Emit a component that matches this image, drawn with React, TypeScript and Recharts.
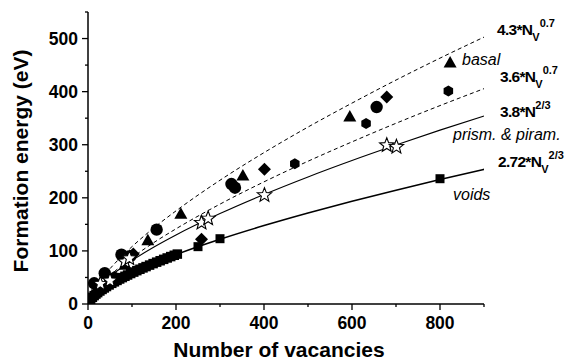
// Formation energy of vacancy clusters vs number of vacancies, with power-law fits.
import { ComposedChart, Line, Scatter, XAxis, YAxis, Customized } from "recharts";

const FONT = "'Liberation Sans', Arial, Helvetica, sans-serif";

// fit curves, values
const fitN = [0, 5, 10, 20, 40, 60, 100, 150, 200, 300, 400, 500, 600, 700, 800, 900];
const basalFit = [0, 13.3, 21.5, 35.0, 56.9, 75.6, 108.0, 143.6, 175.4, 233.1, 285.1, 333.3, 378.4, 421.8, 463.1, 502.7];
const midFit = [0, 10.7, 17.4, 28.2, 45.9, 61.0, 87.2, 115.9, 141.6, 188.1, 230.1, 268.9, 305.4, 340.4, 373.7, 405.6];
const prismFit = [0, 11.1, 17.6, 28.0, 44.5, 58.3, 81.9, 107.3, 130.0, 170.3, 206.3, 239.4, 270.3, 299.4, 327.5, 354.2];
const voidFit = [0, 7.9, 12.6, 20.0, 31.8, 41.7, 58.6, 76.8, 93.0, 121.9, 147.7, 171.4, 193.5, 214.3, 234.4, 253.6];

// markers
const squareN = [1, 6, 10, 14, 18, 22, 27, 32, 37, 42, 48, 54, 60, 66, 72, 78, 84, 90, 97, 104, 111, 118, 125, 132, 140, 148, 156, 164, 172, 180, 188, 196, 203, 250, 300, 800];
const squareE = [2, 9.0, 12.6, 15.8, 18.7, 21.4, 24.5, 27.4, 30.2, 32.9, 35.9, 38.9, 41.7, 44.4, 47.1, 49.7, 52.2, 54.6, 57.4, 60.1, 62.8, 65.4, 68.0, 70.5, 73.3, 76.1, 78.8, 81.5, 84.1, 86.7, 89.3, 91.8, 94.0, 108, 123, 236];
const circleN = [14, 38, 76, 96, 156, 326, 334, 656];
const circleE = [39, 58, 93, 90, 140, 226, 219, 371];
const triN = [85, 136, 211, 352, 595, 823];
const triE = [74, 120, 170, 242, 353, 455];
const diamondN = [103, 258, 401, 679];
const diamondE = [94, 122, 254, 390];
const hexN = [60, 470, 632, 819];
const hexE = [52, 264, 340, 401];
const starN = [28, 50, 84, 94, 258, 273, 401, 679, 701];
const starE = [38, 44, 80, 86, 153, 161, 205, 299, 296];

const xTicks = [0, 100, 200, 300, 400, 500, 600, 700, 800, 900];
const yTicks = [0, 50, 100, 150, 200, 250, 300, 350, 400, 450, 500, 550];

const pts = (ns: number[], es: number[]) => ns.map((n, i) => ({ n, e: es[i] }));

function XTick(props: any) {
  const { x, y, payload } = props;
  const major = payload.value % 200 === 0;
  return (
    <g>
      <line x1={x} x2={x} y1={y} y2={y + (major ? 6 : 3)} stroke="#000" strokeWidth={1.3} />
      {major && (
        <text x={x} y={y + 25} textAnchor="middle" fontSize={17.5} fontWeight="bold" fontFamily={FONT} fill="#000">
          {payload.value}
        </text>
      )}
    </g>
  );
}

function YTick(props: any) {
  const { x, y, payload } = props;
  const major = payload.value % 100 === 0;
  return (
    <g>
      <line x1={x} x2={x - (major ? 6 : 3)} y1={y} y2={y} stroke="#000" strokeWidth={1.3} />
      {major && (
        <text x={x - 10} y={y + 6.3} textAnchor="end" fontSize={17.5} fontWeight="bold" fontFamily={FONT} fill="#000">
          {payload.value}
        </text>
      )}
    </g>
  );
}

const Square = (p: any) => {
  const s = p.payload && p.payload.n > 240 ? 9 : 9.5;
  return <rect x={p.cx - s / 2} y={p.cy - s / 2} width={s} height={s} fill="#000" />;
};
const Dot = (p: any) => <circle cx={p.cx} cy={p.cy} r={6.2} fill="#000" />;
const Tri = (p: any) => (
  <polygon points={`${p.cx},${p.cy - 6.5} ${p.cx + 6.5},${p.cy + 5} ${p.cx - 6.5},${p.cy + 5}`} fill="#000" />
);
const Diamond = (p: any) => (
  <polygon points={`${p.cx},${p.cy - 6.5} ${p.cx + 6.5},${p.cy} ${p.cx},${p.cy + 6.5} ${p.cx - 6.5},${p.cy}`} fill="#000" />
);
const Hex = (p: any) => {
  const r = 5.5;
  const s = [0, 1, 2, 3, 4, 5]
    .map((k) => {
      const a = (Math.PI / 3) * k + Math.PI / 6;
      return `${p.cx + r * Math.cos(a)},${p.cy + r * Math.sin(a)}`;
    })
    .join(" ");
  return <polygon points={s} fill="#000" />;
};
const Star = (p: any) => {
  const s: string[] = [];
  for (let k = 0; k < 10; k++) {
    const r = k % 2 === 0 ? 7.5 : 3.2;
    const a = -Math.PI / 2 + (Math.PI / 5) * k;
    s.push(`${p.cx + r * Math.cos(a)},${p.cy + r * Math.sin(a)}`);
  }
  return <polygon points={s.join(" ")} fill="#fff" stroke="#000" strokeWidth={1.1} />;
};

function Formula({ x, y, main, sub, sup }: { x: number; y: number; main: string; sub?: string; sup: string }) {
  return (
    <text x={x} y={y} fontFamily={FONT} fontWeight="bold" fill="#000" fontSize={15.5} letterSpacing={-0.7}>
      {main}
      {sub && (
        <tspan fontSize={11} dy={6} letterSpacing={0}>
          {sub}
        </tspan>
      )}
      <tspan fontSize={11} dy={sub ? -14 : -8} letterSpacing={0}>
        {sup}
      </tspan>
    </text>
  );
}

function Annotations() {
  const it = { fontFamily: FONT, fontStyle: "italic" as const, fontSize: 16, fill: "#000" };
  return (
    <g>
      <Formula x={497} y={35} main="4.3*N" sub="V" sup="0.7" />
      <text x={462} y={65} {...it}>basal</text>
      <Formula x={500} y={82} main="3.6*N" sub="V" sup="0.7" />
      <Formula x={500} y={117} main="3.8*N" sup="2/3" />
      <text x={453} y={140} {...it}>prism. &amp; piram.</text>
      <Formula x={498} y={167} main="2.72*N" sub="V" sup="2/3" />
      <text x={453} y={200} {...it}>voids</text>
      <text x={279} y={357} textAnchor="middle" fontFamily={FONT} fontWeight="bold" fontSize={21} fill="#000">
        Number of vacancies
      </text>
      <text
        x={0}
        y={0}
        transform="translate(28,161) rotate(-90)"
        textAnchor="middle"
        fontFamily={FONT}
        fontWeight="bold"
        fontSize={21}
        fill="#000"
      >
        Formation energy (eV)
      </text>
    </g>
  );
}

export default function App() {
  return (
    <div style={{ position: "absolute", left: 0, top: 0, background: "#fff" }}>
      <ComposedChart width={578} height={360} margin={{ top: 12, right: 94, bottom: 0, left: 0 }}>
        <XAxis
          dataKey="n"
          type="number"
          domain={[0, 900]}
          ticks={xTicks}
          height={56}
          tickSize={0}
          tickMargin={0}
          tickLine={false}
          tick={<XTick />}
          axisLine={{ stroke: "#000", strokeWidth: 1.5 }}
          allowDataOverflow
        />
        <YAxis
          dataKey="e"
          type="number"
          domain={[0, 550]}
          ticks={yTicks}
          width={88}
          tickSize={0}
          tickMargin={0}
          tickLine={false}
          tick={<YTick />}
          axisLine={{ stroke: "#000", strokeWidth: 1.5 }}
          allowDataOverflow
        />
        <Line data={pts(fitN, basalFit)} dataKey="e" type="monotone" stroke="#000" strokeWidth={1} strokeDasharray="4 3" dot={false} isAnimationActive={false} />
        <Line data={pts(fitN, midFit)} dataKey="e" type="monotone" stroke="#000" strokeWidth={1} strokeDasharray="4 3" dot={false} isAnimationActive={false} />
        <Line data={pts(fitN, prismFit)} dataKey="e" type="monotone" stroke="#000" strokeWidth={1.1} dot={false} isAnimationActive={false} />
        <Line data={pts(fitN, voidFit)} dataKey="e" type="monotone" stroke="#000" strokeWidth={1.6} dot={false} isAnimationActive={false} />
        <Scatter data={pts(squareN, squareE)} shape={Square} isAnimationActive={false} />
        <Scatter data={pts(circleN, circleE)} shape={Dot} isAnimationActive={false} />
        <Scatter data={pts(triN, triE)} shape={Tri} isAnimationActive={false} />
        <Scatter data={pts(diamondN, diamondE)} shape={Diamond} isAnimationActive={false} />
        <Scatter data={pts(hexN, hexE)} shape={Hex} isAnimationActive={false} />
        <Scatter data={pts(starN, starE)} shape={Star} isAnimationActive={false} />
        <Customized component={Annotations} />
      </ComposedChart>
    </div>
  );
}
